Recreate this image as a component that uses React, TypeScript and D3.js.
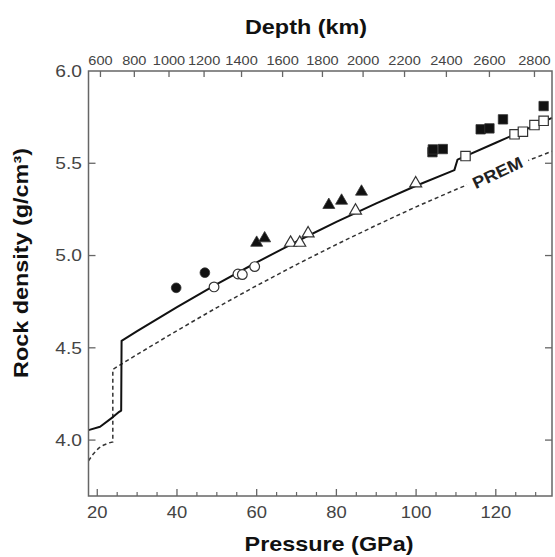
import React from "react";
import * as d3 from "d3";

// ---------- data ----------
const pressureMajorTicks = [20, 40, 60, 80, 100, 120];
const pressureMinorTicks = [25, 30, 35, 45, 50, 55, 65, 70, 75, 85, 90, 95, 105, 110, 115, 125, 130];
const densityTicks = [4.0, 4.5, 5.0, 5.5];
const densityLabels = ["4.0", "4.5", "5.0", "5.5", "6.0"];
const densityLabelValues = [4.0, 4.5, 5.0, 5.5, 6.0];
const depthTicks = [600, 800, 1000, 1200, 1400, 1600, 1800, 2000, 2200, 2400, 2600, 2800];
const depthTickPressures = [20.8, 29.3, 38.0, 46.8, 56.2, 66.5, 76.5, 86.7, 97.1, 107.6, 118.4, 129.7];

// model density (solid line)
const modelP = [17.8, 20.7, 24.0, 25.5, 26.0, 26.1, 30, 40, 50, 60, 70, 80, 90, 100, 109.6, 110.4, 120, 134.1];
const modelRho = [4.054, 4.072, 4.126, 4.153, 4.16, 4.538, 4.59, 4.72, 4.845, 4.963, 5.076, 5.182, 5.283, 5.378, 5.463, 5.52, 5.611, 5.746];

// PREM (dashed line)
const premP = [17.8, 19.0, 20.3, 21.5, 23.0, 23.9, 23.9, 30, 40, 50, 60, 70, 80, 90, 100, 110, 120, 134.1];
const premRho = [3.888, 3.925, 3.955, 3.972, 3.985, 3.99, 4.383, 4.464, 4.593, 4.718, 4.837, 4.951, 5.06, 5.164, 5.264, 5.358, 5.447, 5.565];

// experimental points
const filledCircleP = [39.8, 47.0];
const filledCircleRho = [4.825, 4.907];
const openCircleP = [49.3, 55.3, 56.4, 59.5];
const openCircleRho = [4.83, 4.9, 4.897, 4.94];
const filledTriangleP = [60.0, 62.0, 78.1, 81.3, 86.3];
const filledTriangleRho = [5.069, 5.093, 5.274, 5.297, 5.346];
const openTriangleP = [68.5, 70.8, 72.9, 84.8, 99.9];
const openTriangleRho = [5.069, 5.069, 5.12, 5.243, 5.391];
const filledSquareP = [104.1, 104.2, 106.7, 116.2, 118.4, 121.8, 132.0];
const filledSquareRho = [5.56, 5.575, 5.577, 5.684, 5.689, 5.738, 5.81];
const openSquareP = [112.4, 124.7, 126.8, 129.7, 132.0];
const openSquareRho = [5.539, 5.657, 5.671, 5.707, 5.73];

// ---------- layout ----------
const W = 555;
const H = 557;
const L = 88.5, R = 552, T = 71, B = 496;
const FONT = "'Liberation Sans', Arial, Helvetica, sans-serif";

const x = d3.scaleLinear().domain([17.8, 134.1]).range([L, R]);
const y = d3.scaleLinear().domain([3.697, 6.0]).range([B, T]);

function Txt({ x: tx, y: ty, size, bold = false, anchor = "middle", rot = 0, sx = 1.2, fill = "#333", dy = "0", children }: any) {
  return (
    <g transform={`translate(${tx},${ty}) rotate(${rot}) scale(${sx},1)`}>
      <text
        textAnchor={anchor}
        fontSize={size}
        fontWeight={bold ? "bold" : "normal"}
        fontFamily={FONT}
        fill={fill}
        dy={dy}
      >
        {children}
      </text>
    </g>
  );
}

export default function App() {
  const mkPath = (ps: number[], rs: number[]) =>
    d3
      .line<number>()
      .x((p) => x(p))
      .y((_, i) => y(rs[i]))(ps) as string;

  const modelPath = mkPath(modelP, modelRho);
  const premPath = mkPath(premP, premRho);

  const circleSym = d3.symbol(d3.symbolCircle, 74)() as string;
  const triSym = d3.symbol(d3.symbolTriangle, 62)() as string;
  const sqSym = d3.symbol(d3.symbolSquare, 88)() as string;

  const markers = (ps: number[], rs: number[], path: string, filled: boolean, key: string) =>
    ps.map((p, i) => (
      <path
        key={key + i}
        d={path}
        transform={`translate(${x(p)},${y(rs[i])})`}
        fill={filled ? "#111" : "#fff"}
        stroke="#333"
        strokeWidth={filled ? 0.8 : 1.2}
      />
    ));

  // PREM label placement
  const labP = 120.4;
  const labRho = 5.45;
  const labAngle = -25;

  const axisColor = "#666";

  return (
    <svg
      width={W}
      height={H}
      style={{ position: "absolute", left: 0, top: 0, display: "block", background: "#fff" }}
    >
      <rect x={0} y={0} width={W} height={H} fill="#fff" />

      {/* lines */}
      <path d={premPath} fill="none" stroke="#333" strokeWidth={1.5} strokeDasharray="4,3" />
      <path d={modelPath} fill="none" stroke="#111" strokeWidth={2} strokeLinejoin="round" />

      {/* PREM label */}
      <g transform={`translate(${x(labP)},${y(labRho)}) rotate(${labAngle})`}>
        <rect x={-33} y={-8} width={66} height={16} fill="#fff" />
      </g>
      <Txt x={x(labP)} y={y(labRho)} size={16.5} bold rot={labAngle} sx={1.12} fill="#222" dy="0.36em">
        PREM
      </Txt>

      {/* markers */}
      {markers(openCircleP, openCircleRho, circleSym, false, "oc")}
      {markers(filledCircleP, filledCircleRho, circleSym, true, "fc")}
      {markers(openTriangleP, openTriangleRho, triSym, false, "ot")}
      {markers(filledTriangleP, filledTriangleRho, triSym, true, "ft")}
      {markers(openSquareP, openSquareRho, sqSym, false, "os")}
      {markers(filledSquareP, filledSquareRho, sqSym, true, "fs")}

      {/* frame */}
      <rect x={L} y={T} width={R - L} height={B - T} fill="none" stroke={axisColor} strokeWidth={1.5} />

      {/* bottom ticks */}
      {pressureMajorTicks.map((p) => (
        <line key={"bM" + p} x1={x(p)} x2={x(p)} y1={B} y2={B - 7} stroke={axisColor} strokeWidth={1.3} />
      ))}
      {pressureMinorTicks.map((p) => (
        <line key={"bm" + p} x1={x(p)} x2={x(p)} y1={B} y2={B - 4} stroke={axisColor} strokeWidth={1.2} />
      ))}
      {pressureMajorTicks.map((p) => (
        <Txt key={"bl" + p} x={x(p)} y={518} size={16} sx={1.15} fill="#444">
          {String(p)}
        </Txt>
      ))}

      {/* left/right ticks */}
      {densityTicks.map((r) => (
        <g key={"yt" + r}>
          <line x1={L} x2={L + 7} y1={y(r)} y2={y(r)} stroke={axisColor} strokeWidth={1.3} />
          <line x1={R} x2={R - 7} y1={y(r)} y2={y(r)} stroke={axisColor} strokeWidth={1.3} />
        </g>
      ))}
      {densityLabelValues.map((r, i) => (
        <Txt key={"yl" + r} x={82} y={y(r)} size={16} anchor="end" sx={1.2} fill="#444" dy="0.36em">
          {densityLabels[i]}
        </Txt>
      ))}

      {/* top depth ticks */}
      {depthTicks.map((d, i) => (
        <g key={"dt" + d}>
          <line
            x1={x(depthTickPressures[i])}
            x2={x(depthTickPressures[i])}
            y1={T}
            y2={T + 6}
            stroke={axisColor}
            strokeWidth={1.3}
          />
          <Txt x={x(depthTickPressures[i])} y={65} size={13} sx={1.12} fill="#444">
            {String(d)}
          </Txt>
        </g>
      ))}

      {/* titles */}
      <Txt x={306} y={34} size={19.5} bold sx={1.2} fill="#111">
        Depth (km)
      </Txt>
      <Txt x={329} y={551} size={19.5} bold sx={1.2} fill="#111">
        Pressure (GPa)
      </Txt>
      <Txt x={28} y={263} size={19.5} bold rot={-90} sx={1.2} fill="#111">
        Rock density (g/cm³)
      </Txt>
    </svg>
  );
}
